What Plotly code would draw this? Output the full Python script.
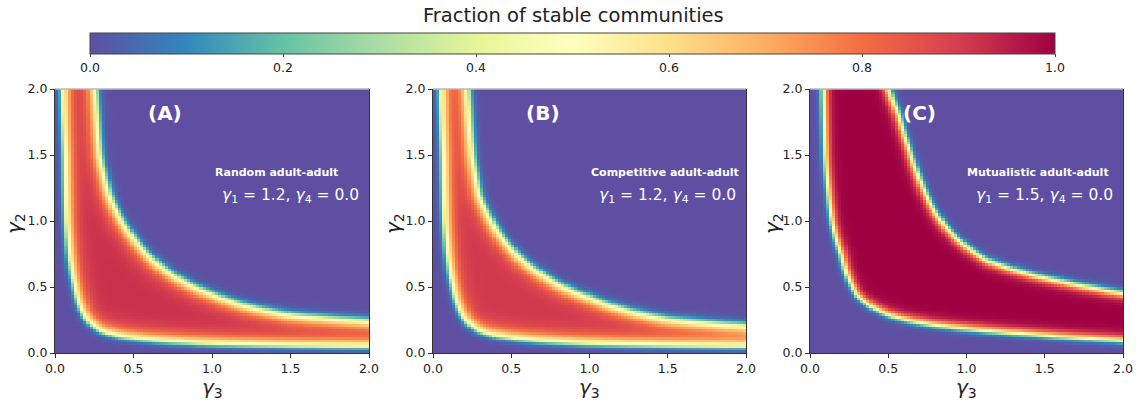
import numpy as np
import plotly.graph_objects as go

# ---------------- data ----------------
# grid of gamma3 / gamma2 cell centres (100 x 100 cells over [0, 2])
n_cells = 100
gamma3 = (np.arange(n_cells) + 0.5) * 2.0 / n_cells
gamma2 = (np.arange(n_cells) + 0.5) * 2.0 / n_cells

# boundary of the stable band (where the fraction is ~0.5), per panel
A_low_g3 = [0.045, 0.05, 0.058, 0.068, 0.09, 0.12, 0.14, 0.2, 0.29, 0.4, 0.5, 0.7, 1.0, 1.5, 2.0]
A_low_g2 = [2.0, 1.75, 1.5, 1.0, 0.7, 0.5, 0.40, 0.25, 0.165, 0.125, 0.108, 0.085, 0.066, 0.052, 0.045]
A_up_g3 = [0.26, 0.29, 0.35, 0.43, 0.5, 0.7, 1.0, 1.25, 1.5, 2.0]
A_up_g2 = [2.0, 1.5, 1.2, 1.0, 0.88, 0.64, 0.45, 0.35, 0.29, 0.245]

B_low_g3 = [0.045, 0.05, 0.058, 0.068, 0.09, 0.12, 0.14, 0.2, 0.29, 0.4, 0.5, 0.7, 1.0, 1.5, 2.0]
B_low_g2 = [2.0, 1.75, 1.5, 1.0, 0.7, 0.5, 0.40, 0.25, 0.165, 0.125, 0.108, 0.085, 0.066, 0.052, 0.045]
B_up_g3 = [0.225, 0.255, 0.3, 0.38, 0.5, 0.7, 1.0, 1.5, 2.0]
B_up_g2 = [2.0, 1.5, 1.2, 1.0, 0.8, 0.6, 0.425, 0.26, 0.21]

C_low_g3 = [0.085, 0.096, 0.14, 0.2, 0.235, 0.3, 0.41, 0.54, 0.76, 1.05, 1.4, 1.8, 2.0]
C_low_g2 = [2.0, 1.5, 1.0, 0.75, 0.6, 0.44, 0.34, 0.275, 0.22, 0.18, 0.145, 0.11, 0.095]
C_up_g3 = [0.5, 0.565, 0.63, 0.70, 0.80, 0.94, 1.13, 1.386, 1.6, 1.81, 2.0]
C_up_g2 = [2.0, 1.80, 1.55, 1.31, 1.06, 0.86, 0.70, 0.60, 0.54, 0.49, 0.45]

# peak fraction inside the band
plateaus = [0.92, 0.91, 1.0]

panel_labels = ["(A)", "(B)", "(C)"]
panel_titles = ["Random adult-adult", "Competitive adult-adult", "Mutualistic adult-adult"]
gamma1_vals = ["1.2", "1.2", "1.5"]
gamma4_vals = ["0.0", "0.0", "0.0"]
title_x = [1.41, 1.48, 1.46]

cbar_ticks = [0.0, 0.2, 0.4, 0.6, 0.8, 1.0]
axis_ticks = [0.0, 0.5, 1.0, 1.5, 2.0]

# ---------------- helpers ----------------
W, H = 1140, 403
PXX, PXY = 156.5, 132.0  # pixels per data unit


def densify(g3, g2, k=12):
    g3 = np.asarray(g3, float); g2 = np.asarray(g2, float)
    xs, ys = [], []
    for i in range(len(g3) - 1):
        t = np.linspace(0, 1, k, endpoint=False)
        xs.append(np.exp(np.log(g3[i]) * (1 - t) + np.log(g3[i + 1]) * t))
        ys.append(np.exp(np.log(g2[i]) * (1 - t) + np.log(g2[i + 1]) * t))
    xs.append([g3[-1]]); ys.append([g2[-1]])
    return np.concatenate(xs) * PXX, np.concatenate(ys) * PXY


def signed_distance(PX, PY, cx, cy):
    ax, ay = cx[:-1], cy[:-1]
    bx, by = cx[1:], cy[1:]
    dx, dy = bx - ax, by - ay
    L2 = dx * dx + dy * dy
    px = PX[:, None]; py = PY[:, None]
    t = np.clip(((px - ax) * dx + (py - ay) * dy) / L2, 0, 1)
    qx = ax + t * dx; qy = ay + t * dy
    d = np.hypot(px - qx, py - qy)
    cross = dx * (py - ay) - dy * (px - ax)
    idx = np.argmin(d, axis=1)
    rows = np.arange(len(PX))
    return d[rows, idx] * np.sign(cross[rows, idx])


def sig(s, w_in, w_out):
    w = np.where(s > 0, w_in, w_out)
    return 1.0 / (1.0 + np.exp(-s / w))


G3, G2 = np.meshgrid(gamma3, gamma2)
PX = G3.ravel() * PXX
PY = G2.ravel() * PXY


def band(low_g3, low_g2, up_g3, up_g2, plateau, w_in, w_out_low, w_out_up):
    lx, ly = densify(low_g3, low_g2)
    ux, uy = densify(up_g3, up_g2)
    s_low = signed_distance(PX, PY, lx, ly)      # >0 inside band
    s_up = -signed_distance(PX, PY, ux, uy)      # >0 inside band
    off = w_in * np.log((0.5 / plateau) / (1 - 0.5 / plateau))
    z = plateau * sig(s_low - off, w_in, w_out_low) * sig(s_up - off, w_in, w_out_up)
    return z.reshape(G3.shape)


Z = [
    band(A_low_g3, A_low_g2, A_up_g3, A_up_g2, plateaus[0], 4.5, 1.9, 2.4),
    band(B_low_g3, B_low_g2, B_up_g3, B_up_g2, plateaus[1], 4.5, 1.9, 2.4),
    band(C_low_g3, C_low_g2, C_up_g3, C_up_g2, plateaus[2], 2.8, 1.8, 2.0),
]

# ---------------- figure ----------------
px_dom = [(55, 369), (433, 746), (810, 1123)]
y_top, y_bot = 89, 353

fig = go.Figure()
for i in range(3):
    ax = "" if i == 0 else str(i + 1)
    fig.add_trace(go.Heatmap(
        x=gamma3, y=gamma2, z=Z[i], coloraxis="coloraxis",
        xaxis="x" + ax, yaxis="y" + ax, zsmooth=False, hoverinfo="skip"))

layout = dict(
    width=W, height=H, margin=dict(l=0, r=0, t=0, b=0, autoexpand=False),
    paper_bgcolor="white", plot_bgcolor="white",
    font=dict(family="DejaVu Sans", color="#222"),
    showlegend=False,
    coloraxis=dict(
        colorscale="Spectral_r", cmin=0, cmax=1,
        colorbar=dict(
            orientation="h", x=(90 + 1055) / 2 / W, xanchor="center",
            len=(1055 - 90) / W, lenmode="fraction",
            thickness=21, thicknessmode="pixels",
            y=1 - 33 / H, yanchor="top", xpad=0, ypad=0,
            outlinecolor="#444", outlinewidth=1,
            ticks="outside", ticklen=3, tickcolor="#444",
            tickvals=cbar_ticks, ticktext=[f"{v:.1f}" for v in cbar_ticks],
            tickfont=dict(size=12.5, family="DejaVu Sans", color="#222"),
        ),
    ),
)

annotations = []
shapes = []
for i in range(3):
    ax = "" if i == 0 else str(i + 1)
    x0, x1 = px_dom[i]
    axis_common = dict(
        range=[0, 2], showgrid=False, zeroline=False,
        showline=True, linecolor="#333", linewidth=1,
        ticks="outside", ticklen=4, tickcolor="#333",
        tickvals=axis_ticks, ticktext=[f"{v:.1f}" for v in axis_ticks],
        tickfont=dict(size=12.5, family="DejaVu Sans", color="#222"),
        automargin=False,
    )
    layout["xaxis" + ax] = dict(axis_common, domain=[x0 / W, x1 / W],
                                anchor="y" + ax, mirror=False)
    layout["yaxis" + ax] = dict(axis_common, domain=[1 - y_bot / H, 1 - y_top / H],
                                anchor="x" + ax, mirror=True)
    xr = "x" + ax; yr = "y" + ax
    shapes.append(dict(type="line", xref=xr + " domain", yref=yr + " domain",
                       x0=0, x1=1, y0=1, y1=1, line=dict(color="#b8b8b8", width=1.5)))
    annotations += [
        dict(x=0.70, y=1.82, xref=xr, yref=yr, text="<b>" + panel_labels[i] + "</b>",
             xanchor="center", yanchor="middle",
             showarrow=False, font=dict(size=20, color="white", family="DejaVu Sans")),
        dict(x=title_x[i], y=1.364, xref=xr, yref=yr, text="<b>" + panel_titles[i] + "</b>",
             xanchor="center", yanchor="middle",
             showarrow=False, font=dict(size=11, color="white", family="DejaVu Sans")),
        dict(x=1.5, y=1.19, xref=xr, yref=yr,
             text="<i>γ</i><sub>1</sub> = " + gamma1_vals[i] + ", <i>γ</i><sub>4</sub> = " + gamma4_vals[i],
             xanchor="center", yanchor="middle",
             showarrow=False, font=dict(size=15.5, color="white", family="DejaVu Sans")),
        dict(x=(x0 + x1) / 2 / W, y=1 - 388 / H, xref="paper", yref="paper",
             text="<i>γ</i><sub>3</sub>", showarrow=False,
             xanchor="center", yanchor="middle",
             font=dict(size=20, color="#222", family="DejaVu Sans")),
        dict(x=[15, 394, 773][i] / W, y=1 - 224 / H, xref="paper", yref="paper",
             text="<i>γ</i><sub>2</sub>", showarrow=False, textangle=-90,
             xanchor="center", yanchor="middle",
             font=dict(size=20, color="#222", family="DejaVu Sans")),
    ]

annotations.append(dict(x=573 / W, y=1 - 15 / H, xref="paper", yref="paper",
                        xanchor="center", yanchor="middle",
                        text="Fraction of stable communities", showarrow=False,
                        font=dict(size=19.5, color="#222", family="DejaVu Sans")))
layout["annotations"] = annotations
layout["shapes"] = shapes
fig.update_layout(**layout)
fig.write_html("out.html")
